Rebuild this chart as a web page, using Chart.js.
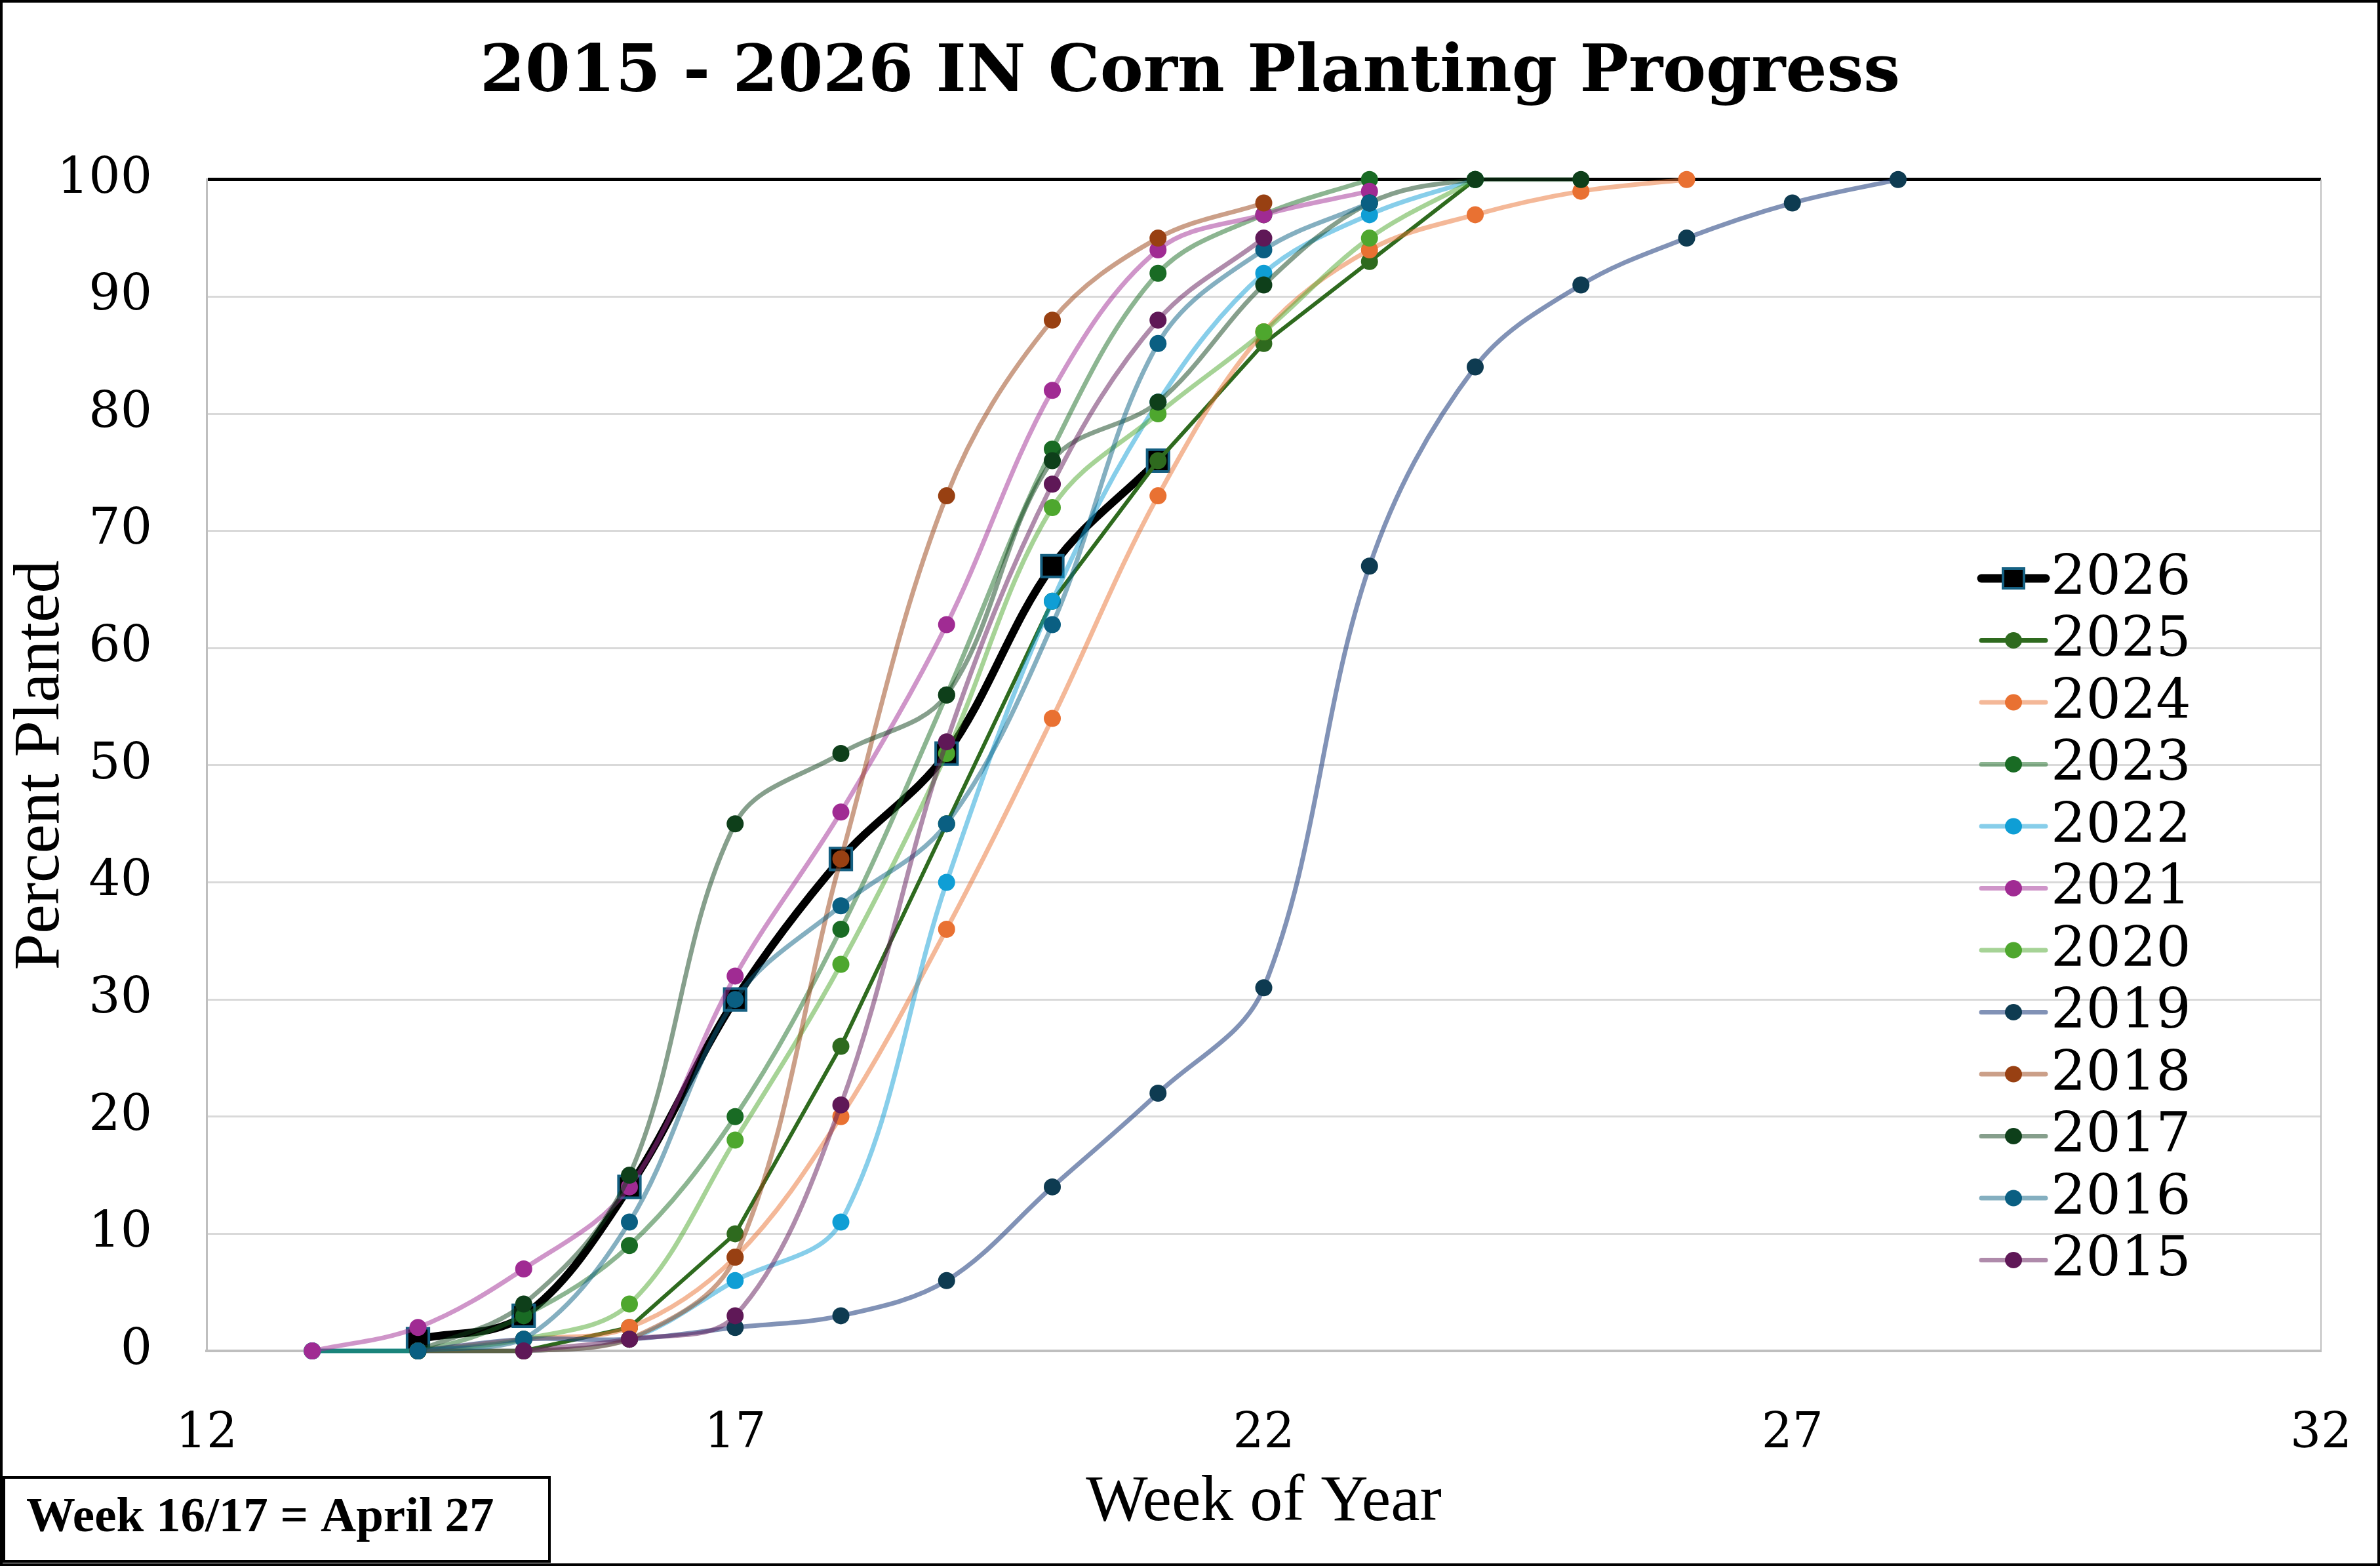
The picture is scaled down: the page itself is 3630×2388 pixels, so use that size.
<!DOCTYPE html>
<html>
<head>
<meta charset="utf-8">
<script src="https://cdn.jsdelivr.net/npm/chart.js@4.4.0/dist/chart.umd.min.js"></script>
<style>
html,body{margin:0;padding:0;background:#ffffff;overflow:hidden}
#wrap{width:3630px;height:2388px;position:relative;background:#fff}
</style>
</head>
<body>
<div id="wrap"><canvas id="c" width="3630" height="2388"></canvas></div>
<script>
// ---- data (week of year -> percent planted) ----
const years = ['2026','2025','2024','2023','2022','2021','2020','2019','2018','2017','2016','2015'];
const startWeek = [14, 13, 14, 13, 13, 13, 14, 14, 14, 14, 14, 15];
const y2026 = [1, 3, 14, 30, 42, 51, 67, 76];
const y2025 = [0, 0, 0, 2, 10, 26, 45, 64, 76, 86, 93, 100];
const y2024 = [0, 1, 2, 8, 20, 36, 54, 73, 87, 94, 97, 99, 100];
const y2023 = [0, 0, 3, 9, 20, 36, 56, 77, 92, 97, 100];
const y2022 = [0, 0, 0, 1, 6, 11, 40, 64, 81, 92, 97, 100];
const y2021 = [0, 2, 7, 14, 32, 46, 62, 82, 94, 97, 99];
const y2020 = [0, 1, 4, 18, 33, 51, 72, 80, 87, 95, 100];
const y2019 = [0, 1, 1, 2, 3, 6, 14, 22, 31, 67, 84, 91, 95, 98, 100];
const y2018 = [0, 0, 1, 8, 42, 73, 88, 95, 98];
const y2017 = [0, 4, 15, 45, 51, 56, 76, 81, 91, 98, 100, 100];
const y2016 = [0, 1, 11, 30, 38, 45, 62, 86, 94, 98];
const y2015 = [0, 1, 3, 21, 52, 74, 88, 95];
const seriesValues = [y2026, y2025, y2024, y2023, y2022, y2021, y2020, y2019, y2018, y2017, y2016, y2015];
const xTicks = [12, 17, 22, 27, 32];
const yTicks = [0, 10, 20, 30, 40, 50, 60, 70, 80, 90, 100];
const titleText = '2015 - 2026 IN Corn Planting Progress';
const xTitle = 'Week of Year';
const yTitle = 'Percent Planted';
const noteText = 'Week 16/17 = April 27';

// ---- styles ----
const markerColors = ['#000000','#2E6A1E','#E97132','#196B24','#0F9ED5','#A02B93','#4EA72E','#0E3B51','#984012','#0E3F1A','#0A5F82','#5F1857'];
const lineColors = ['#000000','#2E6A1E','rgba(233,113,50,0.5)','rgba(25,107,36,0.5)','rgba(15,158,213,0.5)','rgba(160,43,147,0.5)','rgba(78,167,46,0.5)','rgba(38,68,130,0.58)','rgba(152,64,18,0.5)','rgba(14,63,26,0.5)','rgba(10,95,130,0.5)','rgba(95,24,87,0.5)'];

const datasets = years.map((yr, i) => {
  const isCur = i === 0;
  return {
    label: yr,
    data: seriesValues[i].map((v, k) => ({x: startWeek[i] + k, y: v})),
    borderColor: lineColors[i],
    backgroundColor: markerColors[i],
    borderWidth: isCur ? 12 : (i === 1 ? 6 : 7),
    pointStyle: isCur ? 'rect' : 'circle',
    pointRadius: isCur ? 23.5 : 13,
    pointBackgroundColor: markerColors[i],
    pointBorderColor: isCur ? '#156082' : markerColors[i],
    pointBorderWidth: isCur ? 4 : 0,
    tension: i === 1 ? 0 : 0.35,
    fill: false,
    clip: false,
    // Chart.js draws the highest 'order' first: 2026 at the bottom, 2015 on top
    order: isCur ? 100 : 100 - i
  };
});

const framePlugin = {
  id: 'framePlugin',
  afterDraw(chart) {
    const ctx = chart.ctx;
    const a = chart.chartArea;
    ctx.save();
    ctx.strokeStyle = '#BFBFBF';
    ctx.lineWidth = 2;
    ctx.beginPath();
    ctx.moveTo(a.right, a.top);
    ctx.lineTo(a.right, a.bottom);
    ctx.stroke();
    ctx.strokeStyle = '#000';
    ctx.lineWidth = 4;
    ctx.strokeRect(2, 2, chart.width - 4, chart.height - 4);
    ctx.lineWidth = 4;
    ctx.strokeRect(6, 2253, 832, 128);
    ctx.fillStyle = '#000';
    ctx.font = 'bold 75px "Liberation Serif"';
    ctx.textBaseline = 'middle';
    ctx.textAlign = 'left';
    ctx.fillText(noteText, 40, 2316);
    ctx.restore();
  }
};

const legendPlugin = {
  id: 'customLegend',
  afterDatasetsDraw(chart) {
    const ctx = chart.ctx;
    ctx.save();
    const x0 = 3022, x1 = 3120, xm = 3071, xt = 3128;
    chart.data.datasets.forEach((d, i) => {
      const y = 882 + i * 94.5;
      ctx.strokeStyle = d.borderColor;
      ctx.lineWidth = i === 0 ? 13 : 7;
      ctx.lineCap = 'round';
      ctx.beginPath();
      ctx.moveTo(x0, y);
      ctx.lineTo(x1, y);
      ctx.stroke();
      ctx.fillStyle = d.pointBackgroundColor;
      if (i === 0) {
        ctx.fillRect(xm - 16, y - 15, 32, 30);
        ctx.strokeStyle = d.pointBorderColor;
        ctx.lineWidth = 4;
        ctx.strokeRect(xm - 16, y - 15, 32, 30);
      } else {
        ctx.beginPath();
        ctx.ellipse(xm, y, 13, 12.5, 0, 0, Math.PI * 2);
        ctx.fill();
      }
      ctx.fillStyle = '#000';
      ctx.font = '84px "DejaVu Serif"';
      ctx.textBaseline = 'middle';
      ctx.textAlign = 'left';
      ctx.fillText(d.label, xt, y + 2);
    });
    ctx.restore();
  }
};

new Chart(document.getElementById('c'), {
  type: 'line',
  data: { datasets },
  plugins: [legendPlugin, framePlugin],
  options: {
    responsive: false,
    devicePixelRatio: 1,
    animation: false,
    layout: { padding: { left: 44, right: 44, top: 0, bottom: 0 } },
    plugins: {
      legend: { display: false },
      tooltip: { enabled: false },
      title: {
        display: true,
        text: titleText,
        color: '#000',
        font: { family: '"DejaVu Serif"', size: 99, weight: 'bold' },
        padding: { top: 54, bottom: 101 }
      }
    },
    scales: {
      x: {
        type: 'linear',
        min: 12,
        max: 32,
        afterBuildTicks(scale) { scale.ticks = xTicks.map(v => ({value: v})); },
        afterFit(scale) {
          scale.height = 328;
          scale.paddingLeft = 0;
          scale.paddingRight = 90;
        },
        ticks: {
          color: '#000',
          font: { family: '"DejaVu Serif"', size: 74 },
          padding: 83,
          maxRotation: 0,
          autoSkip: false
        },
        grid: { display: false, drawTicks: false },
        border: { display: true, color: '#BFBFBF', width: 4 },
        title: {
          display: true,
          text: xTitle,
          color: '#000',
          font: { family: '"Liberation Serif"', size: 100 },
          padding: { top: 0, bottom: 36 }
        }
      },
      y: {
        type: 'linear',
        min: 0,
        max: 100,
        afterBuildTicks(scale) { scale.ticks = yTicks.map(v => ({value: v})); },
        afterFit(scale) { scale.width = 271; },
        ticks: {
          color: '#000',
          font: { family: '"DejaVu Serif"', size: 76 },
          padding: 83,
          autoSkip: false
        },
        grid: {
          drawTicks: false,
          color: (c) => (c.tick && c.tick.value === 100) ? '#000000' : '#D9D9D9',
          lineWidth: (c) => (c.tick && c.tick.value === 100) ? 5 : 3
        },
        border: { display: true, color: '#BFBFBF', width: 3 },
        title: {
          display: true,
          text: yTitle,
          color: '#000',
          font: { family: '"Liberation Serif"', size: 100, lineHeight: 0.36 },
          padding: { top: 1, bottom: 0 }
        }
      }
    }
  }
});
</script>
</body>
</html>
